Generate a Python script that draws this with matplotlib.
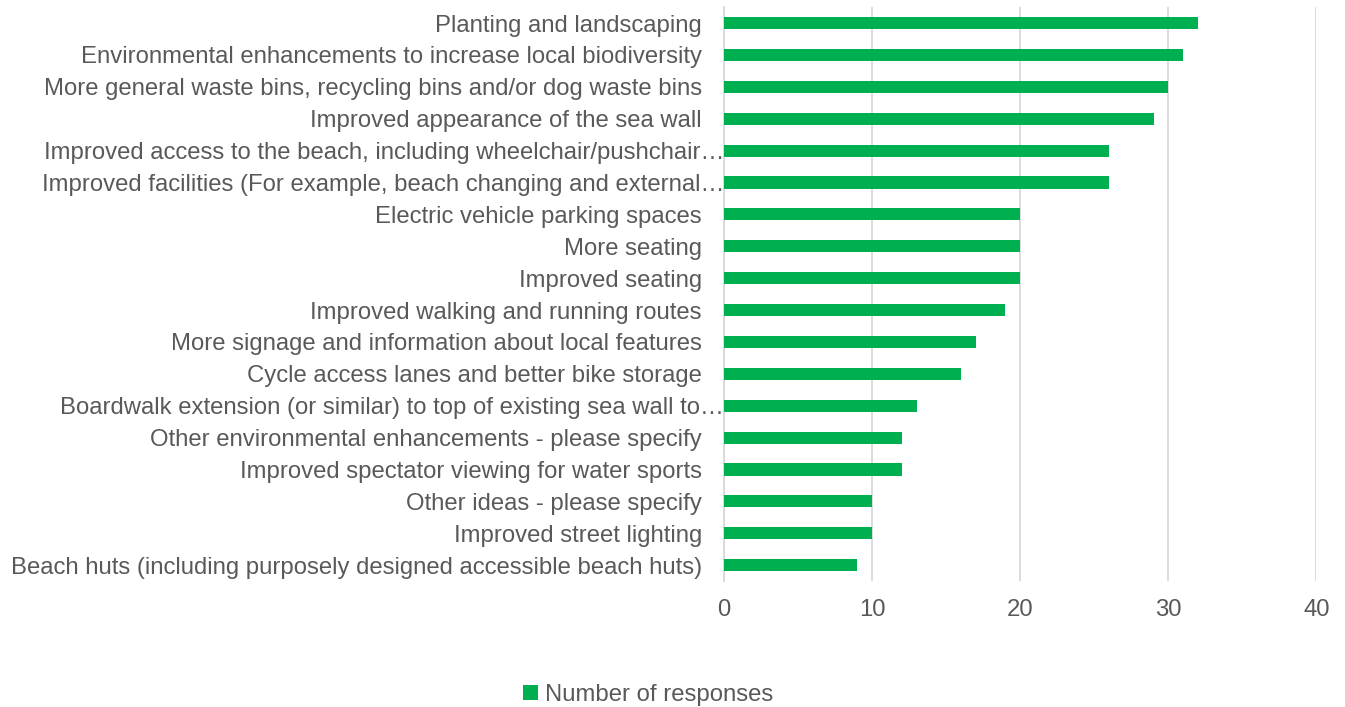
import matplotlib
matplotlib.use('Agg')
import matplotlib.pyplot as plt
from matplotlib.patches import Patch

# Datos (de arriba hacia abajo)
categories = [
    'Planting and landscaping',
    'Environmental enhancements to increase local biodiversity',
    'More general waste bins, recycling bins and/or dog waste bins',
    'Improved appearance of the sea wall',
    'Improved access to the beach, including wheelchair/pushchair\u2026',
    'Improved facilities (For example, beach changing and external\u2026',
    'Electric vehicle parking spaces',
    'More seating',
    'Improved seating',
    'Improved walking and running routes',
    'More signage and information about local features',
    'Cycle access lanes and better bike storage',
    'Boardwalk extension (or similar) to top of existing sea wall to\u2026',
    'Other environmental enhancements - please specify',
    'Improved spectator viewing for water sports',
    'Other ideas - please specify',
    'Improved street lighting',
    'Beach huts (including purposely designed accessible beach huts)',
]
responses = [32, 31, 30, 29, 26, 26, 20, 20, 20, 19, 17, 16, 13, 12, 12, 10, 10, 9]
x_ticks = [0, 10, 20, 30, 40]
series_name = 'Number of responses'

green = '#00b050'
text_color = '#595959'
grid_color = '#d9d9d9'
fs = 17.2

plt.rcParams['font.family'] = ['Liberation Sans', 'DejaVu Sans']

fig = plt.figure(figsize=(13.45, 7.07), dpi=100)
ax = fig.add_axes([0.5383, 0.178, 0.4405, 0.812])

y_pos = list(range(len(categories)))[::-1]
ax.barh(y_pos, responses, height=0.38, color=green, zorder=3)

ax.set_xlim(0, 40)
ax.set_ylim(-0.5, len(categories) - 0.5)
ax.set_xticks(x_ticks)
ax.set_xticklabels([str(t) for t in x_ticks])
ax.set_yticks(y_pos)
ax.set_yticklabels(categories)

ax.tick_params(axis='y', length=0, pad=16, labelsize=fs, labelcolor=text_color)
ax.tick_params(axis='x', length=0, pad=13, labelsize=fs, labelcolor=text_color)

# Etiquetas truncadas llegan hasta el eje
for lbl in ax.get_yticklabels():
    if lbl.get_text().endswith('\u2026'):
        lbl.set_x(0.038)

ax.grid(axis='x', color=grid_color, linewidth=1.3, zorder=0)
for side in ['top', 'right', 'bottom']:
    ax.spines[side].set_visible(False)
ax.spines['left'].set_color(grid_color)
ax.spines['left'].set_linewidth(1.3)

handle = Patch(facecolor=green, edgecolor='none')
fig.legend([handle], [series_name], loc='lower center', bbox_to_anchor=(0.482, -0.029),
           frameon=False, fontsize=fs, labelcolor=text_color,
           handlelength=0.6, handleheight=0.6, handletextpad=0.3)

fig.savefig('out.png', dpi=100)
plt.close(fig)
